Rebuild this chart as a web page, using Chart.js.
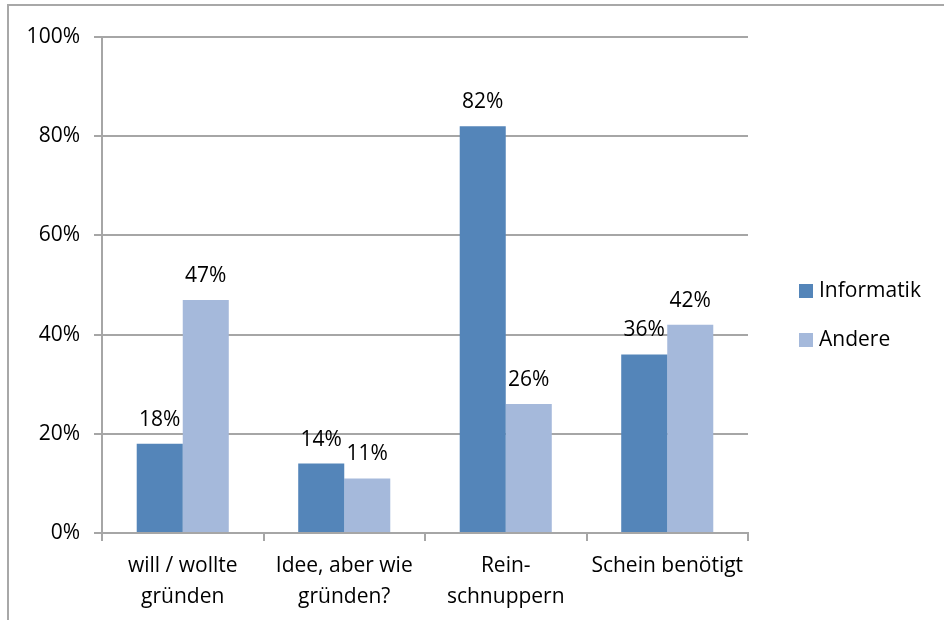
<!DOCTYPE html>
<html>
<head>
<meta charset="utf-8">
<script src="https://cdn.jsdelivr.net/npm/chart.js@4.4.1/dist/chart.umd.min.js"></script>
<style>
  body { margin: 0; overflow: hidden; background: #fff; }
  #rahmen { position: absolute; left: 7px; top: 4px; width: 1000px; height: 700px; border: 2px solid #a8a8a8; }
  #box { position: absolute; left: 0; top: 0; width: 944px; height: 620px; }
</style>
</head>
<body>
<div id="rahmen"></div>
<div id="box"><canvas id="grafico"></canvas></div>
<script>
// Dados do gráfico
const kategorien = [
    ['will / wollte', 'gründen'],
    ['Idee, aber wie', 'gründen?'],
    ['Rein-', 'schnuppern'],
    'Schein benötigt'
];
const informatik = [18, 14, 82, 36];
const andere = [47, 11, 26, 42];
const yTicks = [0, 20, 40, 60, 80, 100];

const fonte = 'Open Sans';
const tamanho = 21;
const corGrade = '#a6a6a6';

// Rótulos em cima das barras
const rotulosPlugin = {
    id: 'rotulos',
    afterDatasetsDraw(chart) {
        const ctx = chart.ctx;
        ctx.save();
        ctx.font = tamanho + 'px "' + fonte + '"';
        ctx.fillStyle = '#000';
        ctx.textAlign = 'center';
        ctx.textBaseline = 'alphabetic';
        chart.data.datasets.forEach((ds, i) => {
            chart.getDatasetMeta(i).data.forEach((bar, j) => {
                ctx.fillText(ds.data[j] + '%', bar.x, bar.y - 18);
            });
        });
        ctx.restore();
    }
};

// Legenda desenhada à direita
const legendaPlugin = {
    id: 'legenda',
    afterDraw(chart) {
        const ctx = chart.ctx;
        ctx.save();
        ctx.font = tamanho + 'px "' + fonte + '"';
        ctx.textBaseline = 'middle';
        ctx.textAlign = 'left';
        chart.data.datasets.forEach((ds, i) => {
            const y = 291 + i * 49;
            ctx.fillStyle = ds.backgroundColor;
            ctx.fillRect(799, y - 7, 14, 14);
            ctx.fillStyle = '#000';
            ctx.fillText(ds.label, 819, y);
        });
        ctx.restore();
    }
};

const ctx = document.getElementById('grafico').getContext('2d');
const grafico = new Chart(ctx, {
    type: 'bar',
    data: {
        labels: kategorien,
        datasets: [
            { label: 'Informatik', data: informatik, backgroundColor: '#5485b9' },
            { label: 'Andere', data: andere, backgroundColor: '#a5b9db' }
        ]
    },
    options: {
        responsive: true,
        maintainAspectRatio: false,
        animation: false,
        events: [],
        layout: { padding: { left: 0, top: 37, right: 196, bottom: 0 } },
        datasets: { bar: { categoryPercentage: 0.57, barPercentage: 1.0 } },
        plugins: {
            legend: { display: false },
            tooltip: { enabled: false }
        },
        scales: {
            x: {
                grid: { display: true, drawOnChartArea: false, drawTicks: true, tickLength: 8, offset: true, color: corGrade, lineWidth: 2 },
                border: { color: corGrade, width: 2 },
                ticks: { color: '#000', font: { family: fonte, size: tamanho, lineHeight: 1.5 }, padding: 9, maxRotation: 0, autoSkip: false },
                afterFit(scale) { scale.height = 87; }
            },
            y: {
                min: 0,
                max: 100,
                afterBuildTicks(scale) { scale.ticks = yTicks.map(v => ({ value: v })); },
                grid: { color: corGrade, lineWidth: 2, tickLength: 8 },
                border: { color: corGrade, width: 2 },
                ticks: {
                    color: '#000',
                    font: { family: fonte, size: tamanho },
                    padding: 14,
                    callback: v => v + '%'
                },
                afterFit(scale) { scale.width = 102; }
            }
        }
    },
    plugins: [rotulosPlugin, legendaPlugin]
});
</script>
</body>
</html>
